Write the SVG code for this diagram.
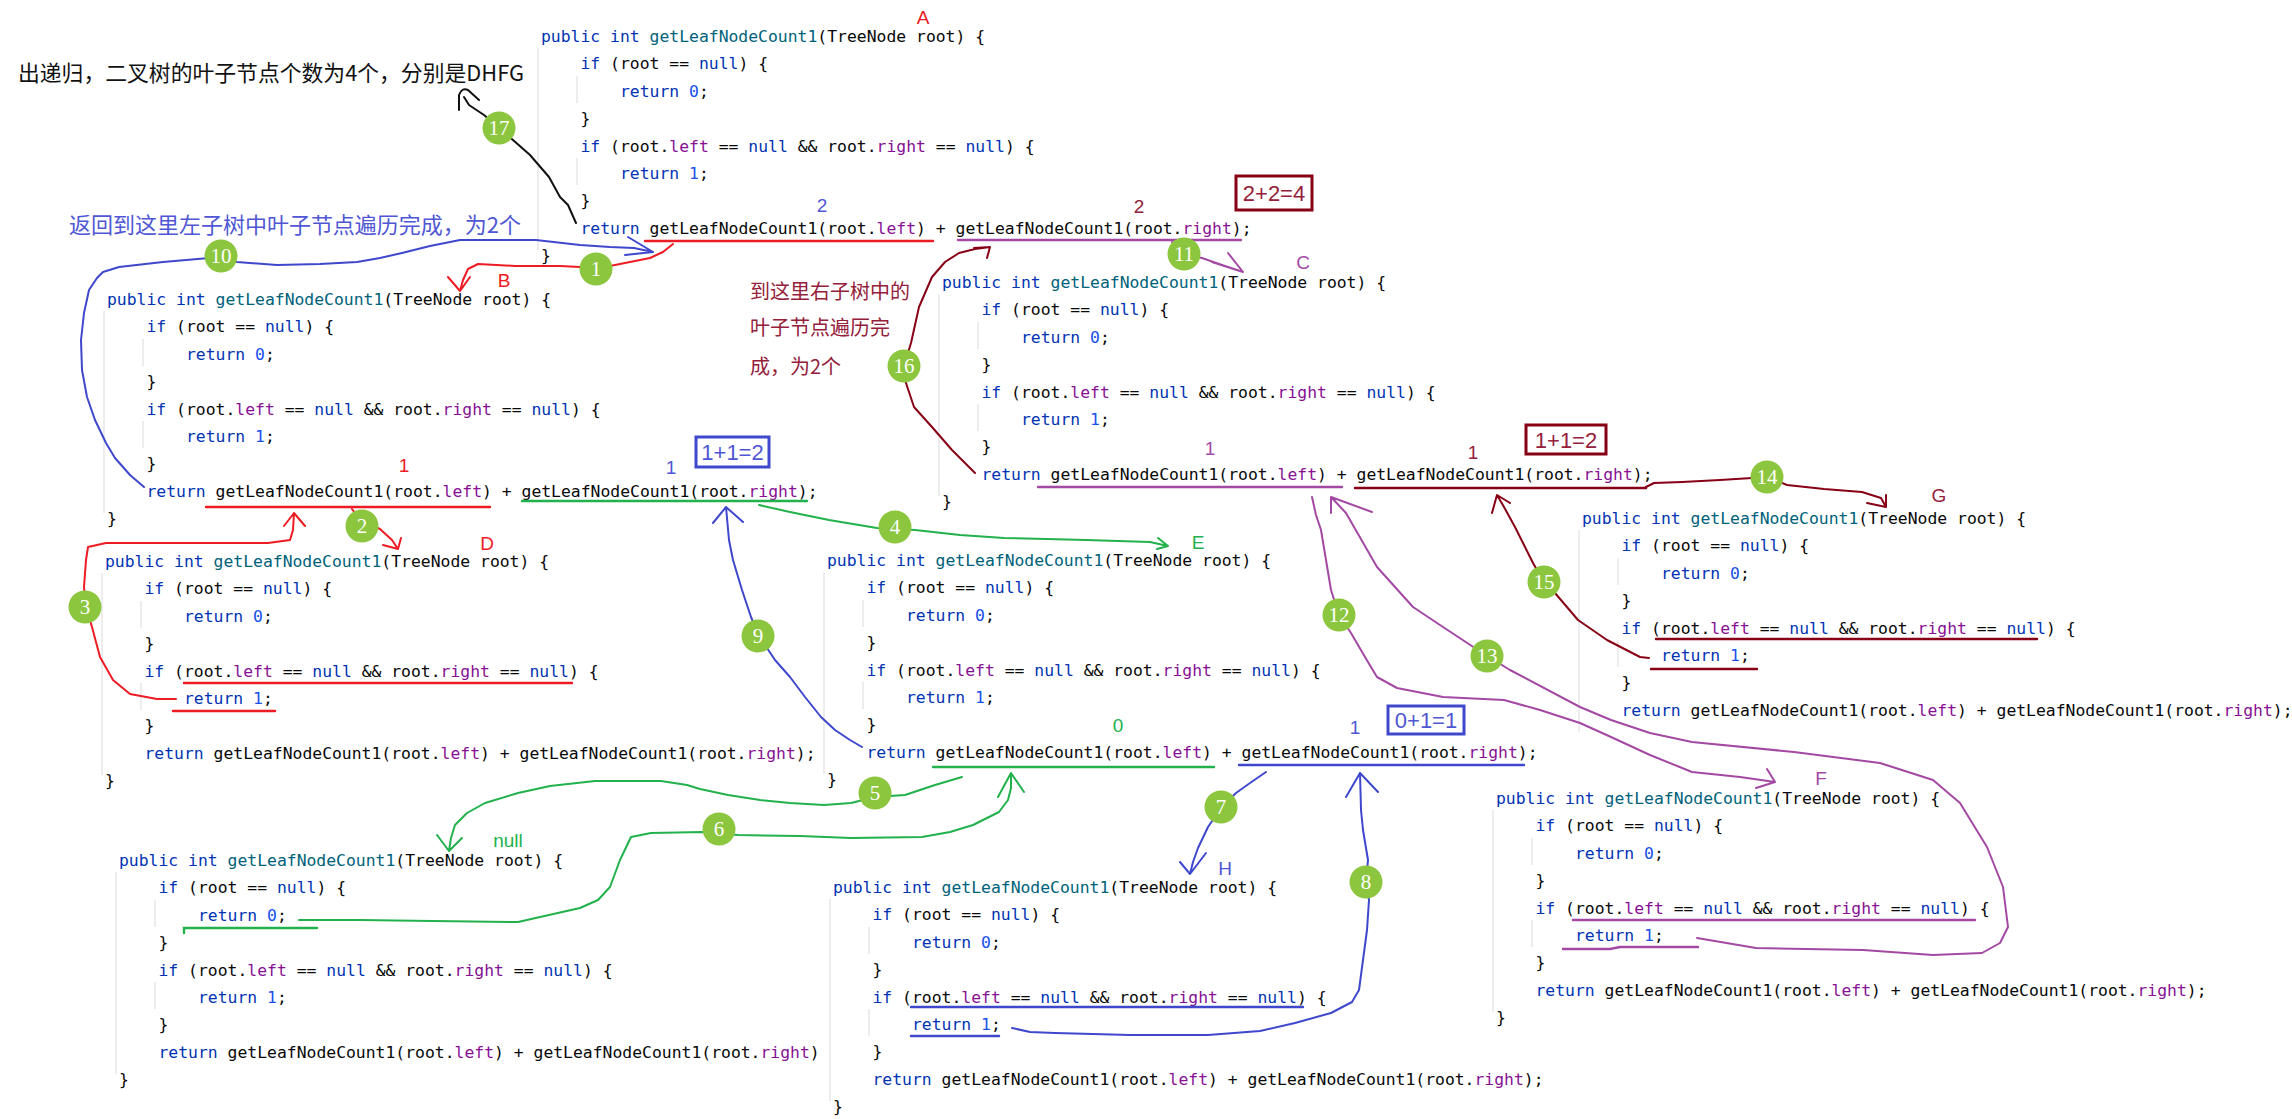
<svg xmlns="http://www.w3.org/2000/svg" width="2292" height="1119" viewBox="0 0 2292 1119">
<style>
.code{font-family:"DejaVu Sans Mono","Liberation Mono",monospace;font-size:16.4px;fill:#080808}
.k{fill:#0033b3}.n{fill:#1750eb}.f{fill:#871094}.m{fill:#00627a}
.guide{stroke:#e2e2e2;stroke-width:1.2;fill:none}
.lbl{font-family:"Liberation Sans",Arial,sans-serif;font-size:19px;text-anchor:middle}
.box{fill:none;stroke-width:3}
.bx{font-family:"Liberation Sans",Arial,sans-serif;font-size:22px;text-anchor:middle}
.cn{font-family:"Noto Sans CJK SC",sans-serif}
.step circle{fill:#8cc63e}
.step text{font-family:"Liberation Serif","Times New Roman",serif;font-size:21px;fill:#fff;text-anchor:middle}
.ln{fill:none;stroke-width:2;stroke-linecap:round;stroke-linejoin:round}
.ul{fill:none;stroke-width:2.4;stroke-linecap:round}
.r{stroke:#ed1c24}.b{stroke:#3f48cc}.g{stroke:#22b14c}.p{stroke:#a349a4}.d{stroke:#880015}.bk{stroke:#111}
.tr{fill:#ed1c24}.tb{fill:#4f57d4}.tg{fill:#22b14c}.tp{fill:#a349a4}.td{fill:#94203a}
</style>
<rect width="2292" height="1119" fill="#fff"/>

<!-- code nodes -->
<g id="node-A" transform="translate(541,42)">
<path class="guide" d="M-3,6V208M36,34V61M36,116V143"/>
<text class="code" x="0" y="0"><tspan class="k">public int</tspan> <tspan class="m">getLeafNodeCount1</tspan>(TreeNode root) {</text>
<text class="code" x="39.5" y="27.4"><tspan class="k">if</tspan> (root == <tspan class="k">null</tspan>) {</text>
<text class="code" x="79" y="54.8"><tspan class="k">return</tspan> <tspan class="n">0</tspan>;</text>
<text class="code" x="39.5" y="82.2">}</text>
<text class="code" x="39.5" y="109.6"><tspan class="k">if</tspan> (root.<tspan class="f">left</tspan> == <tspan class="k">null</tspan> &amp;&amp; root.<tspan class="f">right</tspan> == <tspan class="k">null</tspan>) {</text>
<text class="code" x="79" y="137"><tspan class="k">return</tspan> <tspan class="n">1</tspan>;</text>
<text class="code" x="39.5" y="164.4">}</text>
<text class="code" x="39.5" y="191.8"><tspan class="k">return</tspan> getLeafNodeCount1(root.<tspan class="f">left</tspan>) + getLeafNodeCount1(root.<tspan class="f">right</tspan>);</text>
<text class="code" x="0" y="219.2">}</text>
</g>

<g id="node-B" transform="translate(107,305)">
<path class="guide" d="M-3,6V208M36,34V61M36,116V143"/>
<text class="code" x="0" y="0"><tspan class="k">public int</tspan> <tspan class="m">getLeafNodeCount1</tspan>(TreeNode root) {</text>
<text class="code" x="39.5" y="27.4"><tspan class="k">if</tspan> (root == <tspan class="k">null</tspan>) {</text>
<text class="code" x="79" y="54.8"><tspan class="k">return</tspan> <tspan class="n">0</tspan>;</text>
<text class="code" x="39.5" y="82.2">}</text>
<text class="code" x="39.5" y="109.6"><tspan class="k">if</tspan> (root.<tspan class="f">left</tspan> == <tspan class="k">null</tspan> &amp;&amp; root.<tspan class="f">right</tspan> == <tspan class="k">null</tspan>) {</text>
<text class="code" x="79" y="137"><tspan class="k">return</tspan> <tspan class="n">1</tspan>;</text>
<text class="code" x="39.5" y="164.4">}</text>
<text class="code" x="39.5" y="191.8"><tspan class="k">return</tspan> getLeafNodeCount1(root.<tspan class="f">left</tspan>) + getLeafNodeCount1(root.<tspan class="f">right</tspan>);</text>
<text class="code" x="0" y="219.2">}</text>
</g>

<g id="node-C" transform="translate(942,288)">
<path class="guide" d="M-3,6V208M36,34V61M36,116V143"/>
<text class="code" x="0" y="0"><tspan class="k">public int</tspan> <tspan class="m">getLeafNodeCount1</tspan>(TreeNode root) {</text>
<text class="code" x="39.5" y="27.4"><tspan class="k">if</tspan> (root == <tspan class="k">null</tspan>) {</text>
<text class="code" x="79" y="54.8"><tspan class="k">return</tspan> <tspan class="n">0</tspan>;</text>
<text class="code" x="39.5" y="82.2">}</text>
<text class="code" x="39.5" y="109.6"><tspan class="k">if</tspan> (root.<tspan class="f">left</tspan> == <tspan class="k">null</tspan> &amp;&amp; root.<tspan class="f">right</tspan> == <tspan class="k">null</tspan>) {</text>
<text class="code" x="79" y="137"><tspan class="k">return</tspan> <tspan class="n">1</tspan>;</text>
<text class="code" x="39.5" y="164.4">}</text>
<text class="code" x="39.5" y="191.8"><tspan class="k">return</tspan> getLeafNodeCount1(root.<tspan class="f">left</tspan>) + getLeafNodeCount1(root.<tspan class="f">right</tspan>);</text>
<text class="code" x="0" y="219.2">}</text>
</g>

<g id="node-D" transform="translate(105,567)">
<path class="guide" d="M-3,6V208M36,34V61M36,116V143"/>
<text class="code" x="0" y="0"><tspan class="k">public int</tspan> <tspan class="m">getLeafNodeCount1</tspan>(TreeNode root) {</text>
<text class="code" x="39.5" y="27.4"><tspan class="k">if</tspan> (root == <tspan class="k">null</tspan>) {</text>
<text class="code" x="79" y="54.8"><tspan class="k">return</tspan> <tspan class="n">0</tspan>;</text>
<text class="code" x="39.5" y="82.2">}</text>
<text class="code" x="39.5" y="109.6"><tspan class="k">if</tspan> (root.<tspan class="f">left</tspan> == <tspan class="k">null</tspan> &amp;&amp; root.<tspan class="f">right</tspan> == <tspan class="k">null</tspan>) {</text>
<text class="code" x="79" y="137"><tspan class="k">return</tspan> <tspan class="n">1</tspan>;</text>
<text class="code" x="39.5" y="164.4">}</text>
<text class="code" x="39.5" y="191.8"><tspan class="k">return</tspan> getLeafNodeCount1(root.<tspan class="f">left</tspan>) + getLeafNodeCount1(root.<tspan class="f">right</tspan>);</text>
<text class="code" x="0" y="219.2">}</text>
</g>

<g id="node-E" transform="translate(827,566)">
<path class="guide" d="M-3,6V208M36,34V61M36,116V143"/>
<text class="code" x="0" y="0"><tspan class="k">public int</tspan> <tspan class="m">getLeafNodeCount1</tspan>(TreeNode root) {</text>
<text class="code" x="39.5" y="27.4"><tspan class="k">if</tspan> (root == <tspan class="k">null</tspan>) {</text>
<text class="code" x="79" y="54.8"><tspan class="k">return</tspan> <tspan class="n">0</tspan>;</text>
<text class="code" x="39.5" y="82.2">}</text>
<text class="code" x="39.5" y="109.6"><tspan class="k">if</tspan> (root.<tspan class="f">left</tspan> == <tspan class="k">null</tspan> &amp;&amp; root.<tspan class="f">right</tspan> == <tspan class="k">null</tspan>) {</text>
<text class="code" x="79" y="137"><tspan class="k">return</tspan> <tspan class="n">1</tspan>;</text>
<text class="code" x="39.5" y="164.4">}</text>
<text class="code" x="39.5" y="191.8"><tspan class="k">return</tspan> getLeafNodeCount1(root.<tspan class="f">left</tspan>) + getLeafNodeCount1(root.<tspan class="f">right</tspan>);</text>
<text class="code" x="0" y="219.2">}</text>
</g>

<g id="node-G" transform="translate(1582,524)">
<path class="guide" d="M-3,6V208M36,34V61M36,116V143"/>
<text class="code" x="0" y="0"><tspan class="k">public int</tspan> <tspan class="m">getLeafNodeCount1</tspan>(TreeNode root) {</text>
<text class="code" x="39.5" y="27.4"><tspan class="k">if</tspan> (root == <tspan class="k">null</tspan>) {</text>
<text class="code" x="79" y="54.8"><tspan class="k">return</tspan> <tspan class="n">0</tspan>;</text>
<text class="code" x="39.5" y="82.2">}</text>
<text class="code" x="39.5" y="109.6"><tspan class="k">if</tspan> (root.<tspan class="f">left</tspan> == <tspan class="k">null</tspan> &amp;&amp; root.<tspan class="f">right</tspan> == <tspan class="k">null</tspan>) {</text>
<text class="code" x="79" y="137"><tspan class="k">return</tspan> <tspan class="n">1</tspan>;</text>
<text class="code" x="39.5" y="164.4">}</text>
<text class="code" x="39.5" y="191.8"><tspan class="k">return</tspan> getLeafNodeCount1(root.<tspan class="f">left</tspan>) + getLeafNodeCount1(root.<tspan class="f">right</tspan>);</text>
</g>

<g id="node-F" transform="translate(1496,804)">
<path class="guide" d="M-3,6V208M36,34V61M36,116V143"/>
<text class="code" x="0" y="0"><tspan class="k">public int</tspan> <tspan class="m">getLeafNodeCount1</tspan>(TreeNode root) {</text>
<text class="code" x="39.5" y="27.4"><tspan class="k">if</tspan> (root == <tspan class="k">null</tspan>) {</text>
<text class="code" x="79" y="54.8"><tspan class="k">return</tspan> <tspan class="n">0</tspan>;</text>
<text class="code" x="39.5" y="82.2">}</text>
<text class="code" x="39.5" y="109.6"><tspan class="k">if</tspan> (root.<tspan class="f">left</tspan> == <tspan class="k">null</tspan> &amp;&amp; root.<tspan class="f">right</tspan> == <tspan class="k">null</tspan>) {</text>
<text class="code" x="79" y="137"><tspan class="k">return</tspan> <tspan class="n">1</tspan>;</text>
<text class="code" x="39.5" y="164.4">}</text>
<text class="code" x="39.5" y="191.8"><tspan class="k">return</tspan> getLeafNodeCount1(root.<tspan class="f">left</tspan>) + getLeafNodeCount1(root.<tspan class="f">right</tspan>);</text>
<text class="code" x="0" y="219.2">}</text>
</g>

<g id="node-null" transform="translate(119,866)">
<path class="guide" d="M-3,6V208M36,34V61M36,116V143"/>
<text class="code" x="0" y="0"><tspan class="k">public int</tspan> <tspan class="m">getLeafNodeCount1</tspan>(TreeNode root) {</text>
<text class="code" x="39.5" y="27.4"><tspan class="k">if</tspan> (root == <tspan class="k">null</tspan>) {</text>
<text class="code" x="79" y="54.8"><tspan class="k">return</tspan> <tspan class="n">0</tspan>;</text>
<text class="code" x="39.5" y="82.2">}</text>
<text class="code" x="39.5" y="109.6"><tspan class="k">if</tspan> (root.<tspan class="f">left</tspan> == <tspan class="k">null</tspan> &amp;&amp; root.<tspan class="f">right</tspan> == <tspan class="k">null</tspan>) {</text>
<text class="code" x="79" y="137"><tspan class="k">return</tspan> <tspan class="n">1</tspan>;</text>
<text class="code" x="39.5" y="164.4">}</text>
<text class="code" x="39.5" y="191.8"><tspan class="k">return</tspan> getLeafNodeCount1(root.<tspan class="f">left</tspan>) + getLeafNodeCount1(root.<tspan class="f">right</tspan>)</text>
<text class="code" x="0" y="219.2">}</text>
</g>

<g id="node-H" transform="translate(833,893)">
<path class="guide" d="M-3,6V208M36,34V61M36,116V143"/>
<text class="code" x="0" y="0"><tspan class="k">public int</tspan> <tspan class="m">getLeafNodeCount1</tspan>(TreeNode root) {</text>
<text class="code" x="39.5" y="27.4"><tspan class="k">if</tspan> (root == <tspan class="k">null</tspan>) {</text>
<text class="code" x="79" y="54.8"><tspan class="k">return</tspan> <tspan class="n">0</tspan>;</text>
<text class="code" x="39.5" y="82.2">}</text>
<text class="code" x="39.5" y="109.6"><tspan class="k">if</tspan> (root.<tspan class="f">left</tspan> == <tspan class="k">null</tspan> &amp;&amp; root.<tspan class="f">right</tspan> == <tspan class="k">null</tspan>) {</text>
<text class="code" x="79" y="137"><tspan class="k">return</tspan> <tspan class="n">1</tspan>;</text>
<text class="code" x="39.5" y="164.4">}</text>
<text class="code" x="39.5" y="191.8"><tspan class="k">return</tspan> getLeafNodeCount1(root.<tspan class="f">left</tspan>) + getLeafNodeCount1(root.<tspan class="f">right</tspan>);</text>
<text class="code" x="0" y="219.2">}</text>
</g>

<!-- underlines -->
<g id="underlines">
<path class="ul r" d="M645,241H933"/>
<path class="ul p" d="M958,240H1241"/>
<path class="ul r" d="M206,507H490"/>
<path class="ul g" d="M522,501H807"/>
<path class="ul p" d="M1038,487H1342"/>
<path class="ul d" d="M1355,488H1646"/>
<path class="ul r" d="M184,683H572M173,711H275"/>
<path class="ul g" d="M933,767H1214"/>
<path class="ul b" d="M1239,765H1524"/>
<path class="ul d" d="M1656,639H2037M1651,669H1757"/>
<path class="ul p" d="M1573,920H1975M1563,949H1610L1620,947H1698"/>
<path class="ul g" d="M184,933V928H317"/>
<path class="ul b" d="M911,1007H1303M911,1036H999"/>
</g>

<!-- connectors -->
<g id="connectors">
<path class="ln r" d="M673,244L663,252L650,258L630,262L600,268L560,266L515,266L478,264L468,269L463,280L460,291M448,277L460,291L470,277"/>
<path class="ln r" d="M352,509L360,520L380,529L392,540L398,549M383,545L398,549L401,538"/>
<path class="ln r" d="M176,699L157,699L130,694L113,680L100,657L92,627L86,607L84,587L86,560L88,547L106,543L268,543L290,540L293,530L294,513M284,526L294,513L305,526"/>
<path class="ln g" d="M759,505L790,512L829,520L877,528L915,530L960,535L1004,538L1086,540L1150,542L1168,546M1158,538L1168,546L1157,549"/>
<path class="ln g" d="M962,777L935,785L905,795L875,797L851,803L824,805L790,803L760,800L728,795L700,789L687,785L661,781L595,781L550,786L518,793L485,803L467,813L455,825L451,838L449,851M437,835L449,851L462,838"/>
<path class="ln g" d="M299,920L360,920L432,921L518,922L549,915L580,908L598,900L610,887L620,860L631,837L651,833L702,832L738,835L800,836L851,838L922,837L950,832L973,825L999,812L1008,800L1011,788L1011,773M998,797L1011,773L1024,792"/>
<path class="ln b" d="M1266,772L1250,783L1236,793L1221,808L1208,827L1198,848L1193,862L1190,874M1180,862L1190,874L1206,853"/>
<path class="ln b" d="M1012,1028L1030,1032L1055,1033L1130,1035L1208,1035L1260,1031L1295,1023L1331,1013L1352,1002L1359,990L1363,960L1367,930L1369,900L1366,882L1368,860L1363,830L1361,810L1360,773M1346,797L1360,773L1378,792"/>
<path class="ln b" d="M862,747L850,740L835,730L821,717L805,697L790,677L775,660L759,636L751,617L742,590L733,560L729,540L726,507M713,523L726,507L743,522"/>
<path class="ln b" d="M144,487L130,475L115,458L106,443L95,420L87,397L82,370L81,340L84,313L89,290L97,278L103,272L119,267L163,262L221,257L237,262L277,265L320,264L357,262L380,258L402,253L430,246L460,240L536,240L580,245L610,247L634,248L653,252M628,237L653,252L625,255"/>
<path class="ln p" d="M1172,242L1185,255L1202,258L1222,265L1243,272M1212,262L1243,272L1228,253"/>
<path class="ln p" d="M1312,497L1316,515L1321,530L1326,560L1331,590L1339,615L1351,633L1365,657L1377,677L1397,688L1443,697L1504,700L1540,710L1580,723L1611,737L1650,755L1692,772L1740,777L1775,782M1767,769L1775,782L1756,788"/>
<path class="ln p" d="M1697,938L1756,948L1863,950L1933,955L1982,953L2000,943L2008,927L2003,887L1987,847L1960,803L1933,780L1880,763L1794,752L1692,742L1650,733L1611,720L1580,707L1510,670L1487,656L1443,627L1413,607L1377,567L1346,513L1331,497M1331,513L1331,497L1372,512"/>
<path class="ln d" d="M1646,487L1654,483L1682,482L1720,480L1768,477L1787,485L1824,489L1862,492L1881,498L1886,507M1886,495L1886,507L1867,503"/>
<path class="ln d" d="M1649,658L1640,657L1607,640L1578,620L1555,593L1544,582L1533,563L1515,527L1504,507L1497,495M1492,513L1497,495L1510,503"/>
<path class="ln d" d="M975,473L952,450L932,427L914,407L906,383L904,366L911,343L919,307L932,277L945,262L959,253L975,249L990,247M974,248L990,247L987,258"/>
<path class="ln bk" d="M576,223L568,205L560,197L549,177L530,155L513,140L499,128L484,115L469,105L464,97M459,110L459,95Q462,87 468,90L479,100"/>
</g>

<!-- step markers -->
<g id="steps" class="step">
<circle cx="596" cy="269" r="16.5"/><text x="596" y="276">1</text>
<circle cx="362" cy="526" r="16.5"/><text x="362" y="533">2</text>
<circle cx="85" cy="607" r="16.5"/><text x="85" y="614">3</text>
<circle cx="895" cy="527" r="16.5"/><text x="895" y="534">4</text>
<circle cx="875" cy="793" r="16.5"/><text x="875" y="800">5</text>
<circle cx="719" cy="829" r="16.5"/><text x="719" y="836">6</text>
<circle cx="1221" cy="807" r="16.5"/><text x="1221" y="814">7</text>
<circle cx="1366" cy="882" r="16.5"/><text x="1366" y="889">8</text>
<circle cx="758" cy="636" r="16.5"/><text x="758" y="643">9</text>
<circle cx="221" cy="256" r="16.5"/><text x="221" y="263">10</text>
<circle cx="1184" cy="254" r="16.5"/><text x="1184" y="261">11</text>
<circle cx="1339" cy="615" r="16.5"/><text x="1339" y="622">12</text>
<circle cx="1487" cy="656" r="16.5"/><text x="1487" y="663">13</text>
<circle cx="1767" cy="477" r="16.5"/><text x="1767" y="484">14</text>
<circle cx="1544" cy="582" r="16.5"/><text x="1544" y="589">15</text>
<circle cx="904" cy="366" r="16.5"/><text x="904" y="373">16</text>
<circle cx="499" cy="128" r="16.5"/><text x="499" y="135">17</text>
</g>

<!-- labels -->
<g id="labels">
<text class="lbl tr" x="923" y="24">A</text>
<text class="lbl tr" x="504" y="287">B</text>
<text class="lbl tp" x="1303" y="269">C</text>
<text class="lbl tr" x="487" y="550">D</text>
<text class="lbl tg" x="1198" y="549">E</text>
<text class="lbl tp" x="1821" y="785">F</text>
<text class="lbl td" x="1939" y="502">G</text>
<text class="lbl tb" x="1225" y="875">H</text>
<text class="lbl tg" x="508" y="847">null</text>
<text class="lbl tb" x="822" y="212">2</text>
<text class="lbl td" x="1139" y="213">2</text>
<text class="lbl tr" x="404" y="472">1</text>
<text class="lbl tb" x="671" y="474">1</text>
<text class="lbl tp" x="1210" y="455">1</text>
<text class="lbl td" x="1473" y="459">1</text>
<text class="lbl tg" x="1118" y="732">0</text>
<text class="lbl tb" x="1355" y="734">1</text>
<rect class="box d" x="1236" y="176" width="76" height="34"/>
<text class="bx td" x="1274" y="201" font-size="23">2+2=4</text>
<rect class="box b" x="696" y="437" width="73" height="30"/>
<text class="bx tb" x="732.5" y="460">1+1=2</text>
<rect class="box d" x="1526" y="425" width="80" height="29"/>
<text class="bx td" x="1566" y="447.5">1+1=2</text>
<rect class="box b" x="1388" y="706" width="76" height="28"/>
<text class="bx tb" x="1426" y="728">0+1=1</text>
<text class="cn" x="18" y="81" font-size="22" fill="#111" textLength="506" lengthAdjust="spacingAndGlyphs">出递归，二叉树的叶子节点个数为4个，分别是DHFG</text>
<text class="cn tb" x="69" y="233" font-size="22" textLength="452" lengthAdjust="spacingAndGlyphs">返回到这里左子树中叶子节点遍历完成，为2个</text>
<text class="cn td" x="750" y="299" font-size="20">到这里右子树中的</text>
<text class="cn td" x="750" y="335" font-size="20">叶子节点遍历完</text>
<text class="cn td" x="750" y="374" font-size="20">成，为2个</text>
</g>
</svg>
